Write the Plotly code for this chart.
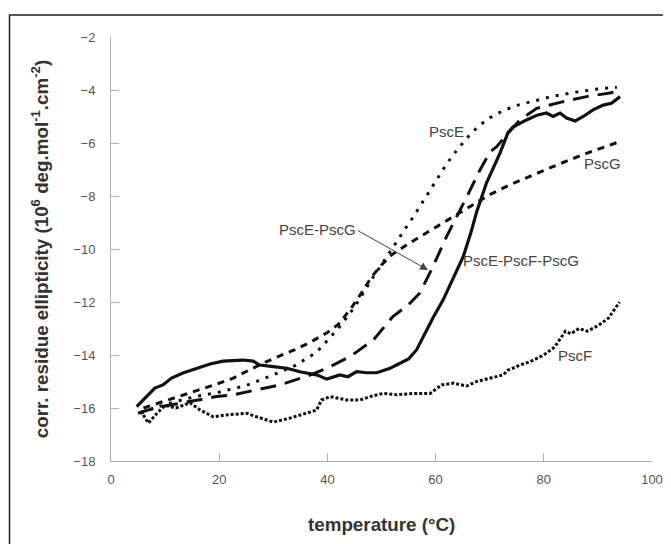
import plotly.graph_objects as go

# temperatures (°C) and corrected residue ellipticity per sample
pscE_t = [5.5, 8, 12, 16, 20, 25, 30, 34, 38, 42, 45, 48, 50, 52, 54, 56, 58, 60, 62,
          64, 66, 68, 70, 72.5, 75, 77.5, 82, 86, 90, 93.5]
pscE_v = [-16.2, -16.0, -15.75, -15.55, -15.4, -15.15, -14.75, -14.4, -13.9, -13.0, -12.2,
          -11.2, -10.6, -9.95, -9.35, -8.75, -8.1, -7.45, -6.8, -6.25, -5.77, -5.35, -5.05,
          -4.78, -4.58, -4.45, -4.22, -4.08, -3.96, -3.9]

pscG_t = [6, 9, 13, 16.5, 19.5, 22.5, 25, 28, 31, 34, 37, 40, 42, 44.5, 46.5, 48, 50, 52,
          55, 59, 62, 66, 70, 74, 78, 83, 88, 94]
pscG_v = [-16.0, -15.8, -15.55, -15.3, -15.1, -14.88, -14.62, -14.32, -14.05, -13.8, -13.5,
          -13.15, -12.85, -12.2, -11.6, -11.1, -10.6, -10.2, -9.8, -9.3, -8.92, -8.45, -7.95,
          -7.55, -7.2, -6.78, -6.38, -5.95]

pscEG_t = [5, 8, 12, 16, 19.5, 22.6, 27.5, 31.2, 36.2, 39.9, 44.2, 48.5, 52.1, 55, 57.1,
           59.5, 62, 64.1, 66.4, 68.2, 70.1, 71.3, 73.5, 75.6, 78.7, 83.6, 87.9, 92.2, 94]
pscEG_v = [-16.2, -16.0, -15.85, -15.7, -15.57, -15.5, -15.3, -15.13, -14.8, -14.5, -14.06,
           -13.43, -12.55, -12.1, -11.66, -10.67, -9.54, -8.72, -7.77, -7.02, -6.33, -6.14,
           -5.6, -5.13, -4.69, -4.44, -4.25, -4.11, -4.05]

pscEFG_t = [4.75, 6.6, 8.1, 9.6, 11.2, 13.3, 15.8, 18.3, 20.7, 24.4, 26.3, 27.5, 30, 32.5,
            34.9, 38, 39.9, 42.3, 43.8, 45.4, 47.3, 49.1, 51.6, 53.4, 55, 56.5, 58, 59.5,
            61.4, 63.2, 65.1, 66.5, 67.6, 69.4, 71.9, 73.4, 74.3, 76.8, 78.9, 80.5, 81.7,
            83, 84.2, 85.8, 87.3, 89.1, 91, 92.5, 94.1]
pscEFG_v = [-15.95, -15.57, -15.25, -15.13, -14.87, -14.68, -14.5, -14.34, -14.23, -14.19,
            -14.23, -14.38, -14.44, -14.5, -14.63, -14.75, -14.91, -14.75, -14.82, -14.63,
            -14.67, -14.67, -14.5, -14.3, -14.15, -13.8, -13.2, -12.6, -11.92, -11.1, -10.29,
            -9.4, -8.59, -7.51, -6.38, -5.6, -5.4, -5.13, -4.94, -4.87, -5.0, -4.87, -5.06,
            -5.17, -5.0, -4.75, -4.57, -4.5, -4.25]

pscF_t = [5.5, 6.9, 8.5, 10, 12, 14.6, 16.5, 18.9, 21.4, 25.1, 26.9, 30, 33.1, 36.2, 38,
          38.9, 40.5, 43.6, 46, 47.9, 50.3, 52.8, 55.8, 59, 60.4, 61.1, 63.3, 65.7, 67.6,
          70.1, 72.5, 73.4, 75.6, 77.5, 80, 82, 84, 85, 86.5, 88, 90, 92, 94]
pscF_v = [-16.1, -16.57, -16.2, -15.9, -16.0, -15.8, -16.08, -16.33, -16.26, -16.2, -16.33,
          -16.53, -16.38, -16.2, -16.08, -15.7, -15.57, -15.7, -15.7, -15.57, -15.45, -15.5,
          -15.45, -15.45, -15.25, -15.13, -15.06, -15.17, -15.0, -14.87, -14.75, -14.57,
          -14.38, -14.25, -14.0, -13.7, -13.1, -13.2, -13.0, -13.1, -12.9, -12.6, -12.0]

labels = ["PscE", "PscG", "PscE-PscG", "PscE-PscF-PscG", "PscF"]
label_t = [62.1, 90.9, 38.1, 75.8, 85.8]
label_v = [-5.55, -6.79, -9.25, -10.45, -14.0]

FONT = "Liberation Sans, Arial, sans-serif"
INK = "#111111"

fig = go.Figure()
fig.add_trace(go.Scatter(x=pscE_t, y=pscE_v, mode="lines", name="PscE",
                         line=dict(color=INK, width=3, dash="3px,7px")))
fig.add_trace(go.Scatter(x=pscG_t, y=pscG_v, mode="lines", name="PscG",
                         line=dict(color=INK, width=3, dash="7px,6px")))
fig.add_trace(go.Scatter(x=pscEG_t, y=pscEG_v, mode="lines", name="PscE-PscG",
                         line=dict(color=INK, width=3, dash="16px,9px")))
fig.add_trace(go.Scatter(x=pscEFG_t, y=pscEFG_v, mode="lines", name="PscE-PscF-PscG",
                         line=dict(color=INK, width=3.2)))
fig.add_trace(go.Scatter(x=pscF_t, y=pscF_v, mode="lines", name="PscF",
                         line=dict(color=INK, width=3, dash="3px,2px")))

for txt, tx, ty in zip(labels, label_t, label_v):
    fig.add_annotation(x=tx, y=ty, text=txt, showarrow=False,
                       font=dict(family=FONT, size=15, color="#444"))

# arrow from the PscE-PscG label to its curve
fig.add_annotation(x=58.6, y=-10.79, ax=45.4, ay=-9.28, axref="x", ayref="y",
                   text="", showarrow=True, arrowhead=2, arrowsize=1.6,
                   arrowwidth=1, arrowcolor="#444")

# axis titles
fig.add_annotation(xref="paper", yref="paper", x=0.5, y=-0.149,
                   xanchor="center", yanchor="middle",
                   text="temperature (°C)", showarrow=False,
                   font=dict(family=FONT, size=18.8, color="#333", weight="bold"))
fig.add_annotation(xref="paper", yref="paper", x=-0.131, y=0.5, textangle=-90,
                   xanchor="center", yanchor="middle",
                   text="corr. residue ellipticity (10<sup>6</sup> deg.mol<sup>-1</sup>.cm<sup>-2</sup>)",
                   showarrow=False,
                   font=dict(family=FONT, size=18.8, color="#333", weight="bold"))

# outer frame (cropped at right and bottom)
fig.add_shape(type="rect", xref="paper", yref="paper",
              x0=-0.1876, x1=1.06, y0=-0.25, y1=1.0519,
              line=dict(color="#222", width=1.5))

axis_style = dict(showline=True, linecolor="#b0b0b0", linewidth=1, showgrid=False,
                  zeroline=False, ticks="inside", ticklen=8, tickcolor="#b0b0b0",
                  automargin=False,
                  tickfont=dict(family=FONT, size=13, color="#555"))
fig.update_xaxes(range=[0, 100], dtick=20, ticklabelstandoff=6, **axis_style)
fig.update_yaxes(range=[-18, -2], dtick=2, ticklabelstandoff=12, **axis_style)

# page body adds an 8px offset, so the figure is drawn 8px smaller
fig.update_layout(width=663, height=536, showlegend=False,
                  margin=dict(l=103, r=19, t=29, b=83),
                  paper_bgcolor="white", plot_bgcolor="white",
                  font=dict(family=FONT))
fig.write_html("out.html")
